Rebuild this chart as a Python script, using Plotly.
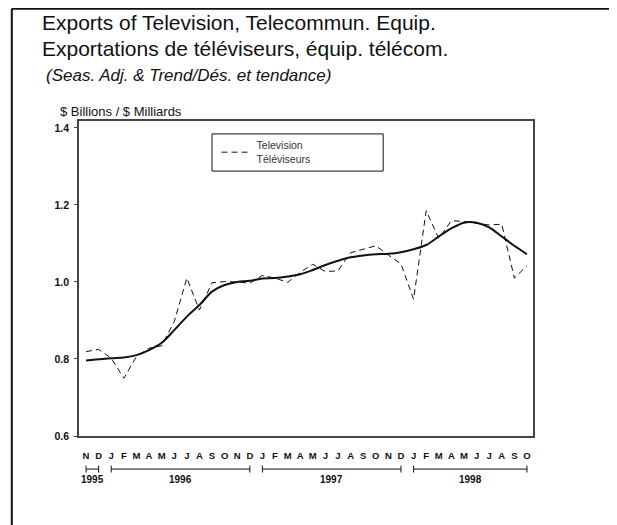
import plotly.graph_objects as go

# ── Data ─────────────────────────────────────────────────────────────────────
MONTHS = ['N', 'D',
          'J', 'F', 'M', 'A', 'M', 'J', 'J', 'A', 'S', 'O', 'N', 'D',
          'J', 'F', 'M', 'A', 'M', 'J', 'J', 'A', 'S', 'O', 'N', 'D',
          'J', 'F', 'M', 'A', 'M', 'J', 'J', 'A', 'S', 'O']

# seasonally adjusted ($ billions), Nov 1995 .. Oct 1998
SEAS_ADJ = [0.819, 0.825, 0.802, 0.750, 0.806, 0.828, 0.834, 0.897, 1.010,
            0.927, 0.998, 1.001, 1.000, 0.997, 1.017, 1.010, 0.999, 1.025,
            1.046, 1.027, 1.029, 1.076, 1.085, 1.094, 1.070, 1.047, 0.955,
            1.185, 1.113, 1.159, 1.157, 1.152, 1.148, 1.150, 1.010, 1.042]

# trend-cycle
TREND = [0.796, 0.799, 0.802, 0.804, 0.810, 0.823, 0.842, 0.875, 0.910,
         0.940, 0.975, 0.992, 1.000, 1.003, 1.009, 1.010, 1.014, 1.020,
         1.031, 1.044, 1.055, 1.064, 1.069, 1.072, 1.073, 1.077, 1.085,
         1.096, 1.118, 1.139, 1.154, 1.154, 1.142, 1.118, 1.094, 1.072]

YEARS = ['1995', '1996', '1997', '1998']
YEAR_START = [0, 2, 14, 26]
YEAR_END = [1, 13, 25, 35]

Y_TICKS = [0.6, 0.8, 1.0, 1.2, 1.4]

# ── Style ────────────────────────────────────────────────────────────────────
FONT = 'Liberation Sans, Arial, Helvetica, sans-serif'
INK = '#111111'
AXIS = '#444444'

idx = list(range(len(MONTHS)))

fig = go.Figure()

fig.add_trace(go.Scatter(
    x=idx, y=SEAS_ADJ,
    mode='lines',
    line=dict(color=INK, width=1, dash='6px,4px'),
    name='Television<br>Téléviseurs',
    showlegend=True,
))

fig.add_trace(go.Scatter(
    x=idx, y=TREND,
    mode='lines',
    line=dict(color=INK, width=2, shape='spline', smoothing=1.0),
    showlegend=False,
))

# year brackets under month letters
for yr, a, b in zip(YEARS, YEAR_START, YEAR_END):
    fig.add_shape(type='line', xref='x', yref='paper', x0=a, x1=b,
                  y0=-0.105, y1=-0.105, line=dict(color=INK, width=1))
    for e in (a, b):
        fig.add_shape(type='line', xref='x', yref='paper', x0=e, x1=e,
                      y0=-0.094, y1=-0.116, line=dict(color=INK, width=1))
    fig.add_annotation(x=(a + b) / 2, y=-0.137, xref='x', yref='paper',
                       text=yr, showarrow=False, yanchor='middle',
                       font=dict(family=FONT, size=10, color=INK, weight='bold'))

# titles
TITLE_X = -0.086
fig.add_annotation(x=TITLE_X, y=1.313, xref='paper', yref='paper',
                   text='Exports of Television, Telecommun. Equip.',
                   showarrow=False, xanchor='left', yanchor='middle',
                   font=dict(family=FONT, size=21, color=INK))
fig.add_annotation(x=TITLE_X, y=1.230, xref='paper', yref='paper',
                   text='Exportations de téléviseurs, équip. télécom.',
                   showarrow=False, xanchor='left', yanchor='middle',
                   font=dict(family=FONT, size=21, color=INK))
fig.add_annotation(x=-0.076, y=1.146, xref='paper', yref='paper',
                   text='<i>(Seas. Adj. &amp; Trend/Dés. et tendance)</i>',
                   showarrow=False, xanchor='left', yanchor='middle',
                   font=dict(family=FONT, size=17, color=INK))
fig.add_annotation(x=-0.046, y=1.03, xref='paper', yref='paper',
                   text='$ Billions / $ Milliards',
                   showarrow=False, xanchor='left', yanchor='middle',
                   font=dict(family=FONT, size=13, color=INK))

# legend frame
fig.add_shape(type='rect', xref='paper', yref='paper',
              x0=0.293, x1=0.670, y0=0.841, y1=0.959,
              line=dict(color=INK, width=1), fillcolor='rgba(0,0,0,0)')

# page frame (top + left rule)
fig.add_shape(type='line', xref='paper', yref='paper',
              x0=-0.148, x1=1.3, y0=1.356, y1=1.356,
              line=dict(color=INK, width=2))
fig.add_shape(type='line', xref='paper', yref='paper',
              x0=-0.148, x1=-0.148, y0=1.356, y1=-0.35,
              line=dict(color=INK, width=2))

fig.update_layout(
    width=609, height=517,
    paper_bgcolor='white', plot_bgcolor='white',
    margin=dict(l=71, r=84, t=113, b=89),
    font=dict(family=FONT, color=INK),
    showlegend=True,
    legend=dict(
        x=0.303, y=0.965, xanchor='left', yanchor='top',
        bgcolor='rgba(0,0,0,0)', borderwidth=0,
        font=dict(family=FONT, size=10.5, color='#333333'),
        itemwidth=30, valign='middle',
    ),
)

fig.update_xaxes(
    range=[-0.56, 35.48],
    tickmode='array', tickvals=idx, ticktext=MONTHS,
    ticks='', ticklabelstandoff=10,
    tickfont=dict(family=FONT, size=9.5, color=INK, weight='bold'),
    showgrid=False, zeroline=False,
    showline=True, linecolor=AXIS, linewidth=1.5, mirror=True,
)
fig.update_yaxes(
    range=[0.6, 1.418],
    tickmode='array', tickvals=Y_TICKS, tickformat='.1f',
    ticks='outside', ticklen=3, tickcolor=AXIS, tickwidth=1,
    ticklabelstandoff=3,
    tickfont=dict(family=FONT, size=10.5, color=INK, weight='bold'),
    showgrid=False, zeroline=False,
    showline=True, linecolor=AXIS, linewidth=1.5, mirror=True,
)

fig.write_html('out.html')
